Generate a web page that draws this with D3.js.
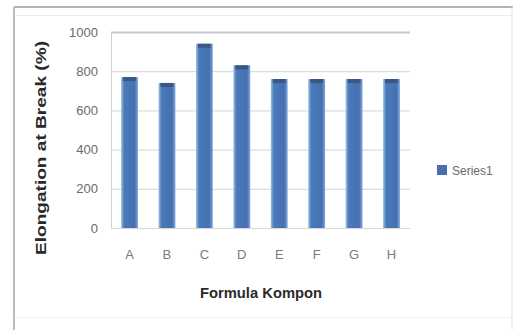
<!DOCTYPE html>
<html>
<head>
<meta charset="utf-8">
<script src="https://cdn.jsdelivr.net/npm/d3@7"></script>
<style>
  body { margin: 0; background: #fff; }
  svg { display: block; font-family: "Liberation Sans", Arial, sans-serif; }
</style>
</head>
<body>
<svg></svg>
<script>
var width = 513;
var height = 330;

// data
var categories = ["A", "B", "C", "D", "E", "F", "G", "H"];
var seriesValues = [770, 740, 940, 830, 760, 760, 760, 760];
var yTicks = [0, 200, 400, 600, 800, 1000];
var seriesName = "Series1";

var plot = { left: 111, right: 410, top: 32, bottom: 228 };

var svg = d3.select("svg")
            .attr("width", width)
            .attr("height", height);

// outer frame (screenshot of a spreadsheet chart)
svg.append("line")
   .attr("x1", 14).attr("x2", 14).attr("y1", 7).attr("y2", 330)
   .attr("stroke", "#bdbdbd").attr("stroke-width", 2);
svg.append("line")
   .attr("x1", 14).attr("x2", 513).attr("y1", 7).attr("y2", 7)
   .attr("stroke", "#b3b3b3").attr("stroke-width", 2);
svg.append("line")
   .attr("x1", 15).attr("x2", 513).attr("y1", 15.5).attr("y2", 15.5)
   .attr("stroke", "#ededed");
svg.append("line")
   .attr("x1", 15).attr("x2", 513).attr("y1", 317.5).attr("y2", 317.5)
   .attr("stroke", "#f0f0f0");
svg.append("line")
   .attr("x1", 512).attr("x2", 512).attr("y1", 7).attr("y2", 330)
   .attr("stroke", "#e4e4e4");

var defs = svg.append("defs");
var grad = defs.append("linearGradient")
               .attr("id", "barGrad")
               .attr("x1", "0%").attr("x2", "100%")
               .attr("y1", "0%").attr("y2", "0%");
grad.append("stop").attr("offset", "0%").attr("stop-color", "#9cc4ec");
grad.append("stop").attr("offset", "18%").attr("stop-color", "#4a7ab8");
grad.append("stop").attr("offset", "80%").attr("stop-color", "#4670b2");
grad.append("stop").attr("offset", "100%").attr("stop-color", "#7ea6dc");

var scaleX = d3.scaleBand()
               .domain(categories)
               .range([plot.left, plot.right])
               .paddingInner(0.55)
               .paddingOuter(0.27);

var scaleY = d3.scaleLinear()
               .domain([0, 1000])
               .range([plot.bottom, plot.top]);

// gridlines + y labels
var yAxis = d3.axisLeft(scaleY)
              .tickValues(yTicks)
              .tickFormat(d3.format("d"))
              .tickSizeInner(-(plot.right - plot.left))
              .tickSizeOuter(0)
              .tickPadding(13);

var gy = svg.append("g")
            .attr("transform", "translate(" + plot.left + ",0)")
            .call(yAxis);
gy.select(".domain").attr("stroke", "#d0d0d0");
gy.selectAll(".tick line")
  .attr("stroke", function(d) { return d === 1000 ? "#c8c8c8" : "#dcdcdc"; })
  .attr("stroke-width", function(d) { return d === 1000 ? 2 : 1.2; });
gy.selectAll(".tick text")
  .attr("fill", "#6a6a6a")
  .style("font-size", "13px");

// bars
svg.append("g")
   .selectAll("rect")
   .data(seriesValues)
   .enter()
   .append("rect")
   .attr("x", function(d, i) { return scaleX(categories[i]); })
   .attr("y", function(d) { return scaleY(d); })
   .attr("width", scaleX.bandwidth())
   .attr("height", function(d) { return scaleY(0) - scaleY(d); })
   .attr("fill", "url(#barGrad)");

// bar tops slightly darker
svg.append("g")
   .selectAll("rect")
   .data(seriesValues)
   .enter()
   .append("rect")
   .attr("x", function(d, i) { return scaleX(categories[i]) + 2; })
   .attr("y", function(d) { return scaleY(d); })
   .attr("width", scaleX.bandwidth() - 4)
   .attr("height", 4)
   .attr("fill", "#3d5683");

// x axis
var xAxis = d3.axisBottom(scaleX)
              .tickSize(0)
              .tickPadding(22);
var gx = svg.append("g")
            .attr("transform", "translate(0," + plot.bottom + ")")
            .call(xAxis);
gx.select(".domain").attr("stroke", "#d8d8d8");
gx.selectAll(".tick text")
  .attr("fill", "#7a7a7a")
  .style("font-size", "13px");

// axis titles
svg.append("text")
   .attr("transform", "translate(46,148) rotate(-90)")
   .attr("text-anchor", "middle")
   .attr("fill", "#2a2a2a")
   .attr("textLength", 214)
   .attr("lengthAdjust", "spacingAndGlyphs")
   .style("font-size", "14px")
   .style("font-weight", "bold")
   .text("Elongation at Break (%)");

svg.append("text")
   .attr("x", 261)
   .attr("y", 298)
   .attr("text-anchor", "middle")
   .attr("fill", "#2a2a2a")
   .attr("textLength", 122)
   .attr("lengthAdjust", "spacingAndGlyphs")
   .style("font-size", "14px")
   .style("font-weight", "bold")
   .text("Formula Kompon");

// legend
var legend = svg.append("g").attr("transform", "translate(437,165)");
legend.append("rect")
      .attr("width", 10).attr("height", 10)
      .attr("fill", "#4a6db2");
legend.append("text")
      .attr("x", 15).attr("y", 10)
      .attr("fill", "#6a6a6a")
      .style("font-size", "12px")
      .text(seriesName);
</script>
</body>
</html>
